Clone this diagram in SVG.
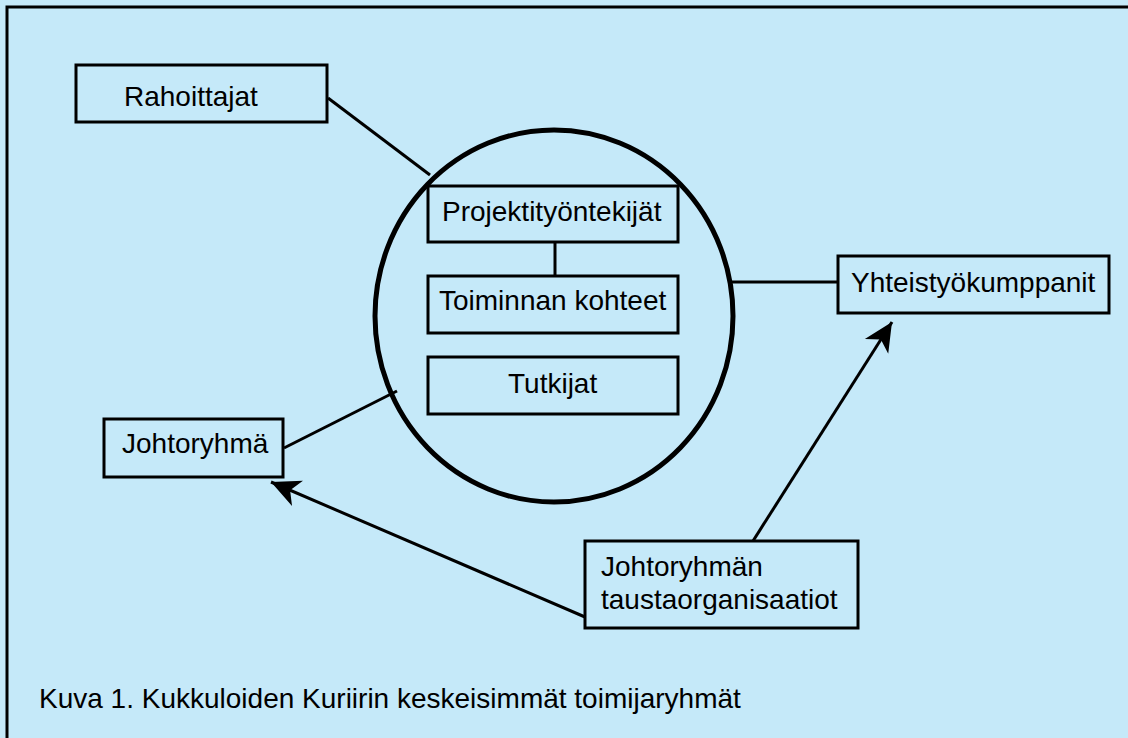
<svg xmlns="http://www.w3.org/2000/svg" width="1128" height="738" viewBox="0 0 1128 738">
<style>
.box{fill:none;stroke:#000;stroke-width:3}
.t{font-family:"Liberation Sans",Arial,sans-serif;font-size:28px;fill:#000}
.ln{stroke:#000;stroke-width:3;fill:none}
</style>
<defs>
<marker id="arr" markerUnits="userSpaceOnUse" markerWidth="30" markerHeight="30" viewBox="0 -13 26 26" refX="25" refY="0" orient="auto">
<path d="M25 0 L0 -12 L7 0 L0 12 Z" fill="#000"/>
</marker>
</defs>
<rect width="1128" height="738" fill="#C5E9F9"/>
<path d="M7 740 V7 H1130" fill="none" stroke="#000" stroke-width="3"/>
<g id="connectors">
<line class="ln" x1="328" y1="98" x2="430" y2="175"/>
<line class="ln" x1="555" y1="242" x2="555" y2="276"/>
<line class="ln" x1="732" y1="282" x2="838" y2="282"/>
<line class="ln" x1="284" y1="448" x2="397" y2="391"/>
<line class="ln" x1="585" y1="617" x2="271" y2="482" marker-end="url(#arr)"/>
<line class="ln" x1="753" y1="541" x2="892" y2="322" marker-end="url(#arr)"/>
</g>
<g id="circle"><ellipse cx="554" cy="316" rx="179" ry="186" fill="none" stroke="#000" stroke-width="5"/></g>
<g id="rahoittajat"><rect class="box" x="76" y="65" width="251" height="57"/><text class="t" x="124" y="106">Rahoittajat</text></g>
<g id="projektityontekijat"><rect class="box" x="428" y="186" width="250" height="56"/><text class="t" x="442" y="221">Projektityöntekijät</text></g>
<g id="toiminnan"><rect class="box" x="428" y="276" width="250" height="57"/><text class="t" x="439" y="310">Toiminnan kohteet</text></g>
<g id="tutkijat"><rect class="box" x="428" y="357" width="250" height="57"/><text class="t" x="508" y="393">Tutkijat</text></g>
<g id="yhteistyo"><rect class="box" x="838" y="256" width="271" height="57"/><text class="t" x="851" y="292">Yhteistyökumppanit</text></g>
<g id="johtoryhma"><rect class="box" x="104" y="419" width="179" height="58"/><text class="t" x="122" y="453">Johtoryhmä</text></g>
<g id="tausta"><rect class="box" x="585" y="541" width="273" height="87"/><text class="t" x="601" y="576">Johtoryhmän</text><text class="t" x="601" y="609">taustaorganisaatiot</text></g>
<text class="t" x="39" y="708">Kuva 1. Kukkuloiden Kuriirin keskeisimmät toimijaryhmät</text>
</svg>
